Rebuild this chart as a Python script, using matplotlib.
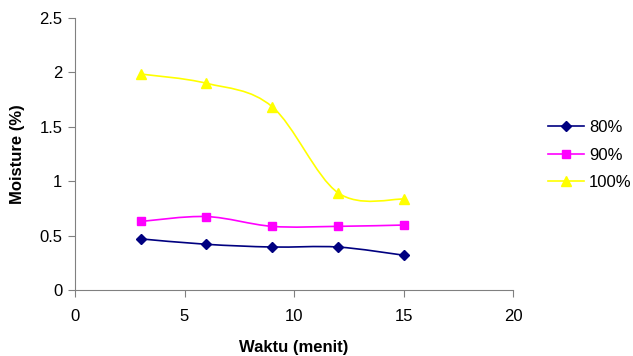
import numpy as np
import matplotlib
matplotlib.use("Agg")
import matplotlib.pyplot as plt
from matplotlib.path import Path
from matplotlib.patches import PathPatch
from matplotlib.lines import Line2D

plt.rcParams['font.family'] = ['Liberation Sans', 'DejaVu Sans']

waktu = [3, 6, 9, 12, 15]
m80 = [0.47, 0.42, 0.395, 0.395, 0.32]
m90 = [0.63, 0.675, 0.585, 0.585, 0.597]
m100 = [1.985, 1.90, 1.685, 0.895, 0.835]
labels = ['80%', '90%', '100%']


def smooth_path(x, y):
    # excel-like smoothed line (catmull-rom bezier)
    pts = np.column_stack([x, y]).astype(float)
    n = len(pts)
    verts = [pts[0]]
    codes = [Path.MOVETO]
    for i in range(n - 1):
        p0 = pts[i - 1] if i > 0 else pts[i]
        p1 = pts[i]
        p2 = pts[i + 1]
        p3 = pts[i + 2] if i + 2 < n else pts[i + 1]
        c1 = p1 + (p2 - p0) / 6.0
        c2 = p2 - (p3 - p1) / 6.0
        verts += [c1, c2, p2]
        codes += [Path.CURVE4] * 3
    return Path(verts, codes)


fig = plt.figure(figsize=(6.33, 3.56), dpi=100)
ax = fig.add_axes([75 / 633, 1 - 290 / 356, (513 - 75) / 633, (290 - 18) / 356])

series = [
    (m80, '#000080', 'D', 5),
    (m90, '#ff00ff', 's', 6),
    (m100, '#ffff00', '^', 7),
]
handles = []
for (vals, col, mk, ms), lab in zip(series, labels):
    ax.add_patch(PathPatch(smooth_path(waktu, vals), facecolor='none',
                           edgecolor=col, lw=1.2, zorder=2))
    ax.plot(waktu, vals, ls='none', marker=mk, ms=ms, color=col, zorder=3)
    handles.append(Line2D([0], [0], color=col, lw=1.2, marker=mk, ms=ms, label=lab))

ax.set_xlim(0, 20)
ax.set_ylim(0, 2.5)
ax.set_xticks([0, 5, 10, 15, 20])
ax.set_yticks([0, 0.5, 1, 1.5, 2, 2.5])
ax.set_yticklabels(['0', '0.5', '1', '1.5', '2', '2.5'])
for s in ['top', 'right']:
    ax.spines[s].set_visible(False)
for s in ['left', 'bottom']:
    ax.spines[s].set_color('#808080')
ax.tick_params(colors='#808080', labelcolor='black', labelsize=12, length=5)
ax.tick_params(axis='x', pad=9)
ax.tick_params(axis='y', pad=4)

ax.set_xlabel('Waktu (menit)', fontsize=12, fontweight='bold', labelpad=11)
ax.set_ylabel('Moisture (%)', fontsize=12, fontweight='bold', labelpad=10)

fig.legend(handles=handles, loc='center left', bbox_to_anchor=(533 / 633, 1 - 155 / 356),
           frameon=False, fontsize=12, handlelength=2.15, labelspacing=0.75, handletextpad=0.3)

fig.savefig('out.png', dpi=100)
